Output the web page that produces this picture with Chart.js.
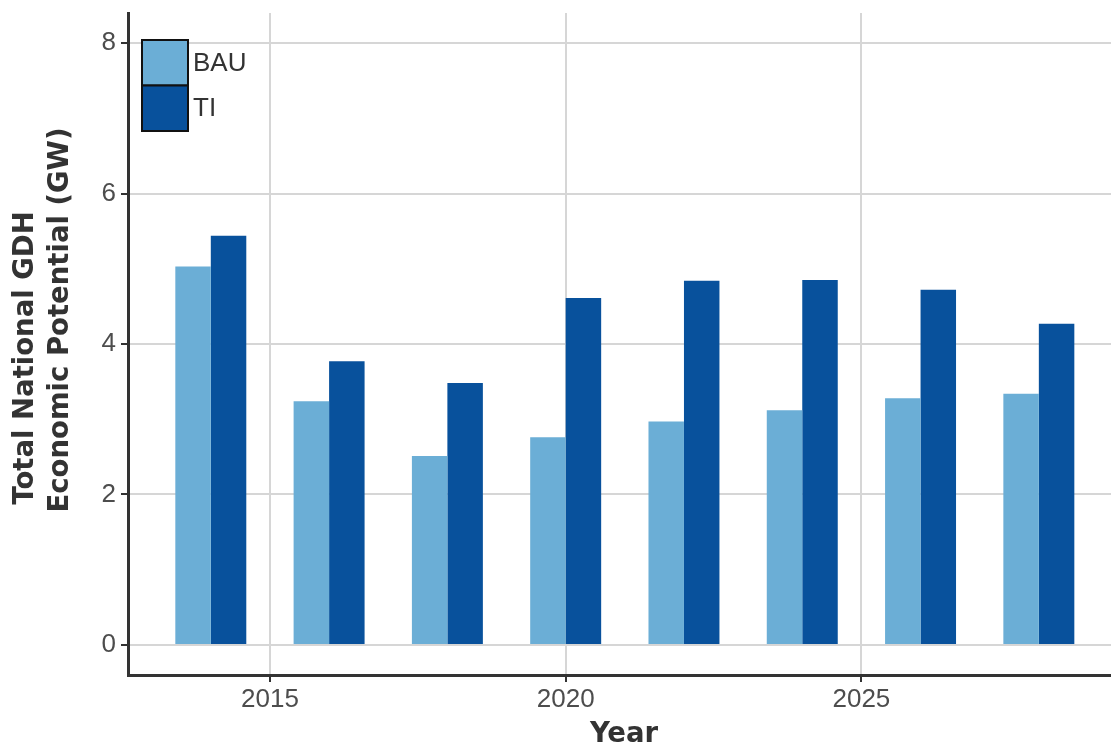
<!DOCTYPE html>
<html>
<head>
<meta charset="utf-8">
<title>Total National GDH Economic Potential</title>
<script src="https://cdn.jsdelivr.net/npm/chart.js@4.4.1/dist/chart.umd.min.js"></script>
<style>
  html, body { margin: 0; padding: 0; background: #fff; }
  #wrap { width: 1111px; height: 751px; }
</style>
</head>
<body>
<div id="wrap"><canvas id="chart" width="1111" height="751"></canvas></div>
<script>
// data
var years = [2014, 2016, 2018, 2020, 2022, 2024, 2026, 2028];
var bauValues = [5.03, 3.24, 2.51, 2.76, 2.97, 3.12, 3.28, 3.34];
var tiValues = [5.44, 3.77, 3.48, 4.61, 4.84, 4.85, 4.72, 4.27];
var seriesNames = ['BAU', 'TI'];
var xTickYears = [2015, 2020, 2025];
var yTickValues = [0, 2, 4, 6, 8];
var xTitle = 'Year';
var yTitleLines = ['Total National GDH', 'Economic Potential (GW)'];

var colors = ['#6baed6', '#08519c'];
var tickFont = {family: '"Liberation Sans", Arial, sans-serif', size: 26};
var titleFont = 'bold 27.5px "DejaVu Sans", sans-serif';

function toPoints(values){
  return values.map(function(v, i){ return {x: years[i], y: v}; });
}

/**
* Legenda met omrande vakjes linksboven in het plotgebied.
**/
var boxLegend = {
  id: 'boxLegend',
  afterDraw: function(chart){
    var ctx = chart.ctx;
    var x = 142, y = 40, w = 46, h = 45.5;
    ctx.save();
    chart.data.datasets.forEach(function(ds, i){
      var top = y + i * h;
      ctx.fillStyle = ds.backgroundColor;
      ctx.fillRect(x, top, w, h);
      ctx.strokeStyle = '#111';
      ctx.lineWidth = 2;
      ctx.strokeRect(x, top, w, h);
      ctx.fillStyle = '#333';
      ctx.font = '26px "Liberation Sans", Arial, sans-serif';
      ctx.textAlign = 'left';
      ctx.textBaseline = 'middle';
      ctx.fillText(ds.label, x + w + 5, top + h / 2 + 1);
    });
    ctx.restore();
  }
};

/**
* As titels, elke regel apart geplaatst.
**/
var axisTitles = {
  id: 'axisTitles',
  afterDraw: function(chart){
    var ctx = chart.ctx;
    ctx.save();
    ctx.font = titleFont;
    ctx.fillStyle = '#333';
    ctx.textAlign = 'center';
    ctx.textBaseline = 'middle';
    ctx.fillText(xTitle, 624, 734.5);
    var spots = [[25.5, 358], [60.5, 320]];
    yTitleLines.forEach(function(line, i){
      ctx.save();
      ctx.translate(spots[i][0], spots[i][1]);
      ctx.rotate(-Math.PI / 2);
      ctx.fillText(line, 0, 0);
      ctx.restore();
    });
    ctx.restore();
  }
};

var gridOpts = {color: '#d6d6d6', lineWidth: 2, tickColor: '#333', tickLength: 7, tickWidth: 2, offset: false};
var borderOpts = {color: '#333', width: 3};

new Chart(document.getElementById('chart'), {
  type: 'bar',
  data: {
    datasets: [{
      label: seriesNames[0],
      data: toPoints(bauValues),
      backgroundColor: colors[0],
      borderWidth: 0,
      categoryPercentage: 0.6,
      barPercentage: 1.0
    }, {
      label: seriesNames[1],
      data: toPoints(tiValues),
      backgroundColor: colors[1],
      borderWidth: 0,
      categoryPercentage: 0.6,
      barPercentage: 1.0
    }]
  },
  options: {
    responsive: false,
    animation: false,
    devicePixelRatio: 1,
    layout: {padding: {top: 13, left: 0, right: 0, bottom: 0}},
    plugins: {legend: {display: false}, tooltip: {enabled: false}},
    scales: {
      x: {
        type: 'linear',
        min: 2012.60,
        max: 2029.22,
        offset: false,
        afterBuildTicks: function(scale){
          scale.ticks = xTickYears.map(function(v){ return {value: v}; });
        },
        afterFit: function(scale){
          scale.height = 76;
          scale.paddingLeft = 0;
          scale.paddingRight = 0;
        },
        grid: gridOpts,
        border: borderOpts,
        ticks: {
          color: '#4d4d4d',
          font: tickFont,
          padding: 2,
          maxRotation: 0,
          callback: function(v){ return String(v); }
        }
      },
      y: {
        min: -0.4,
        max: 8.4,
        afterBuildTicks: function(scale){
          scale.ticks = yTickValues.map(function(v){ return {value: v}; });
        },
        afterFit: function(scale){
          scale.width = 128;
          scale.paddingTop = 0;
          scale.paddingBottom = 0;
        },
        grid: gridOpts,
        border: borderOpts,
        ticks: {
          color: '#4d4d4d',
          font: tickFont,
          padding: 5,
          callback: function(v){ return String(v); }
        }
      }
    }
  },
  plugins: [boxLegend, axisTitles]
});
</script>
</body>
</html>
